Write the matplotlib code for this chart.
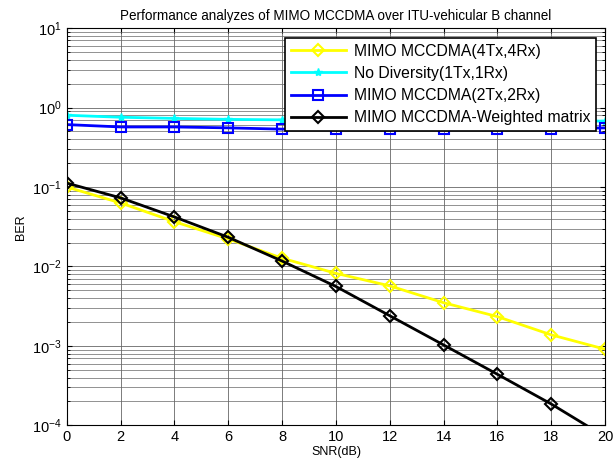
import matplotlib.pyplot as plt
import numpy as np

plt.rcParams['font.family'] = ['Liberation Sans', 'DejaVu Sans']

snr = [0, 2, 4, 6, 8, 10, 12, 14, 16, 18, 20]

# BER per scheme
ber_4x4 = [0.100, 0.063, 0.0366, 0.0222, 0.0127, 0.0082, 0.0057, 0.0035, 0.00234, 0.00138, 0.00091]
ber_1x1 = [0.80, 0.755, 0.73, 0.71, 0.70, 0.695, 0.69, 0.685, 0.68, 0.68, 0.675]
ber_2x2 = [0.61, 0.57, 0.57, 0.555, 0.535, 0.54, 0.54, 0.54, 0.54, 0.54, 0.555]
ber_wm = [0.112, 0.073, 0.042, 0.0233, 0.0117, 0.0056, 0.0024, 0.00103, 0.00044, 0.000186, 0.000072]

fig = plt.figure(figsize=(6.13, 4.68), dpi=100)
ax = fig.add_axes([0.109, 0.091, 0.878, 0.849])

ax.semilogy(snr, ber_4x4, color='yellow', marker='D', markersize=6, mfc='none', mew=1.5, lw=2, label='MIMO MCCDMA(4Tx,4Rx)')
ax.semilogy(snr, ber_1x1, color='cyan', marker='*', markersize=6, lw=2, label='No Diversity(1Tx,1Rx)')
ax.semilogy(snr, ber_2x2, color='blue', marker='s', markersize=7, mfc='none', mew=1.5, lw=2, label='MIMO MCCDMA(2Tx,2Rx)')
ax.semilogy(snr, ber_wm, color='black', marker='D', markersize=6, mfc='none', mew=1.5, lw=2, label='MIMO MCCDMA-Weighted matrix')

ax.set_xlim(0, 20)
ax.set_ylim(1e-4, 10)
ax.set_xticks(np.arange(0, 21, 2))
ax.grid(True, which='major', color='0.4', lw=0.6)
ax.grid(True, which='minor', axis='y', color='0.4', lw=0.5)
ax.tick_params(direction='in', which='both', top=True, right=True, labelsize=10.5)

ax.set_xlabel('SNR(dB)', fontsize=9, labelpad=1)
ax.set_ylabel('BER', fontsize=9)
ax.set_title('Performance analyzes of MIMO MCCDMA over ITU-vehicular B channel', fontsize=9.75)

leg = ax.legend(loc='upper right', bbox_to_anchor=(0.984, 0.976), fontsize=11.3, fancybox=False,
                framealpha=1, edgecolor='black', handlelength=3.5, borderaxespad=0,
                labelspacing=0.45, handletextpad=0.5)
leg.get_frame().set_linewidth(1.2)

fig.savefig('out.png', dpi=100)
